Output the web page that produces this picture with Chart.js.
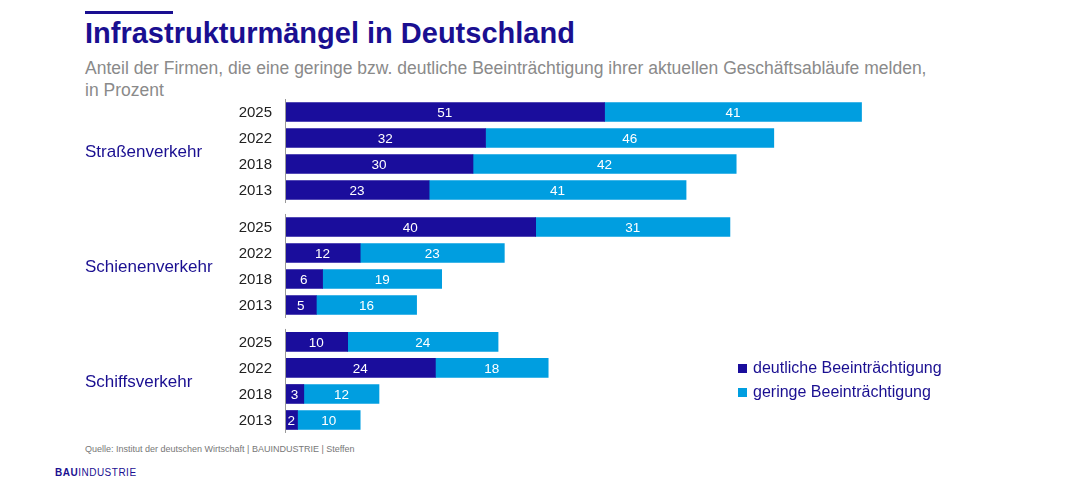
<!DOCTYPE html>
<html><head><meta charset="utf-8">
<script src="https://cdn.jsdelivr.net/npm/chart.js@4"></script>
<style>
body{margin:0;width:1069px;height:493px;background:#fff;font-family:"Liberation Sans",Arial,sans-serif;position:relative;overflow:hidden}
#bar{position:absolute;left:85px;top:11px;width:88px;height:3px;background:#1a0f91}
h1{position:absolute;left:85px;top:17px;margin:0;font-size:29px;color:#1a0f91;font-weight:bold}
#sub{position:absolute;left:85px;top:57px;font-size:17.5px;color:#8a8a8a;line-height:22px}
#wrap{position:absolute;left:0;top:95px;width:1069px;height:345px}
#legend{position:absolute;left:738px;top:356px;font-size:16px;color:#1a0f91;line-height:24px}
#legend span{display:inline-block;width:9px;height:9px;margin-right:6px}
#src{position:absolute;left:85px;top:444px;font-size:9px;color:#777}
#logo{position:absolute;left:55px;top:467px;font-size:10px;color:#1a0f91;letter-spacing:0.5px}
</style></head><body>
<div id="bar"></div>
<h1>Infrastrukturmängel in Deutschland</h1>
<div id="sub">Anteil der Firmen, die eine geringe bzw. deutliche Beeinträchtigung ihrer aktuellen Geschäftsabläufe melden,<br>in Prozent</div>
<div id="wrap"><canvas id="c"></canvas></div>
<div id="legend"><div><span style="background:#1a0d9c"></span>deutliche Beeinträchtigung</div><div><span style="background:#009ee0"></span>geringe Beeinträchtigung</div></div>
<div id="src">Quelle: Institut der deutschen Wirtschaft | BAUINDUSTRIE | Steffen</div>
<div id="logo"><b>BAU</b>INDUSTRIE</div>
<script>
// Daten
const groups = ['Straßenverkehr', 'Schienenverkehr', 'Schiffsverkehr'];
const years = ['2025', '2022', '2018', '2013'];
const deutlich = [[51, 32, 30, 23], [40, 12, 6, 5], [10, 24, 3, 2]];
const gering = [[41, 46, 42, 41], [31, 23, 19, 16], [24, 18, 12, 10]];

const GAP = 0.42; // Abstand zwischen Gruppen in Zeilen
const rowPos = (g, i) => g * (years.length + GAP) + i;

const dData = [], gData = [], labels = [];
groups.forEach((grp, g) => {
    years.forEach((y, i) => {
        dData.push({ x: [0, deutlich[g][i]], y: rowPos(g, i) });
        gData.push({ x: [deutlich[g][i], deutlich[g][i] + gering[g][i]], y: rowPos(g, i) });
        labels.push({ y: rowPos(g, i), year: y, d: deutlich[g][i], s: gering[g][i] });
    });
});

const lastRow = rowPos(groups.length - 1, years.length - 1);

const deco = {
    id: 'deco',
    afterDatasetsDraw(chart) {
        const { ctx, scales: { x, y } } = chart;
        ctx.save();
        ctx.textBaseline = 'middle';
        labels.forEach(l => {
            const py = y.getPixelForValue(l.y) + 1;
            ctx.fillStyle = '#222';
            ctx.font = '15px "Liberation Sans", Arial';
            ctx.textAlign = 'right';
            ctx.fillText(l.year, 272, py);
            ctx.fillStyle = '#fff';
            ctx.font = '13.5px "Liberation Sans", Arial';
            ctx.textAlign = 'center';
            ctx.fillText(l.d, (x.getPixelForValue(0) + x.getPixelForValue(l.d)) / 2, py);
            ctx.fillText(l.s, (x.getPixelForValue(l.d) + x.getPixelForValue(l.d + l.s)) / 2, py);
        });
        groups.forEach((grp, g) => {
            const top = y.getPixelForValue(rowPos(g, 0)) - 13;
            const bot = y.getPixelForValue(rowPos(g, years.length - 1)) + 13;
            ctx.strokeStyle = '#999';
            ctx.lineWidth = 1;
            ctx.beginPath();
            ctx.moveTo(x.left + 0.5, top);
            ctx.lineTo(x.left + 0.5, bot);
            ctx.stroke();
            ctx.fillStyle = '#1a0f91';
            ctx.font = '17px "Liberation Sans", Arial';
            ctx.textAlign = 'left';
            ctx.fillText(grp, 85, (top + bot) / 2 + 1);
        });
        ctx.restore();
    }
};

new Chart(document.getElementById('c'), {
    type: 'bar',
    data: {
        datasets: [
            { label: 'deutliche Beeinträchtigung', data: dData, backgroundColor: '#1a0d9c', barThickness: 19, grouped: false },
            { label: 'geringe Beeinträchtigung', data: gData, backgroundColor: '#009ee0', barThickness: 19, grouped: false }
        ]
    },
    options: {
        indexAxis: 'y',
        responsive: true,
        maintainAspectRatio: false,
        animation: false,
        layout: { padding: { left: 285, right: 32, top: 0, bottom: 0 } },
        plugins: { legend: { display: false }, tooltip: { enabled: false } },
        scales: {
            x: { type: 'linear', min: 0, max: 120, display: false },
            y: { type: 'linear', reverse: true, offset: false, min: -0.654, max: lastRow + 0.77, display: false }
        }
    },
    plugins: [deco]
});
</script>
</body></html>
